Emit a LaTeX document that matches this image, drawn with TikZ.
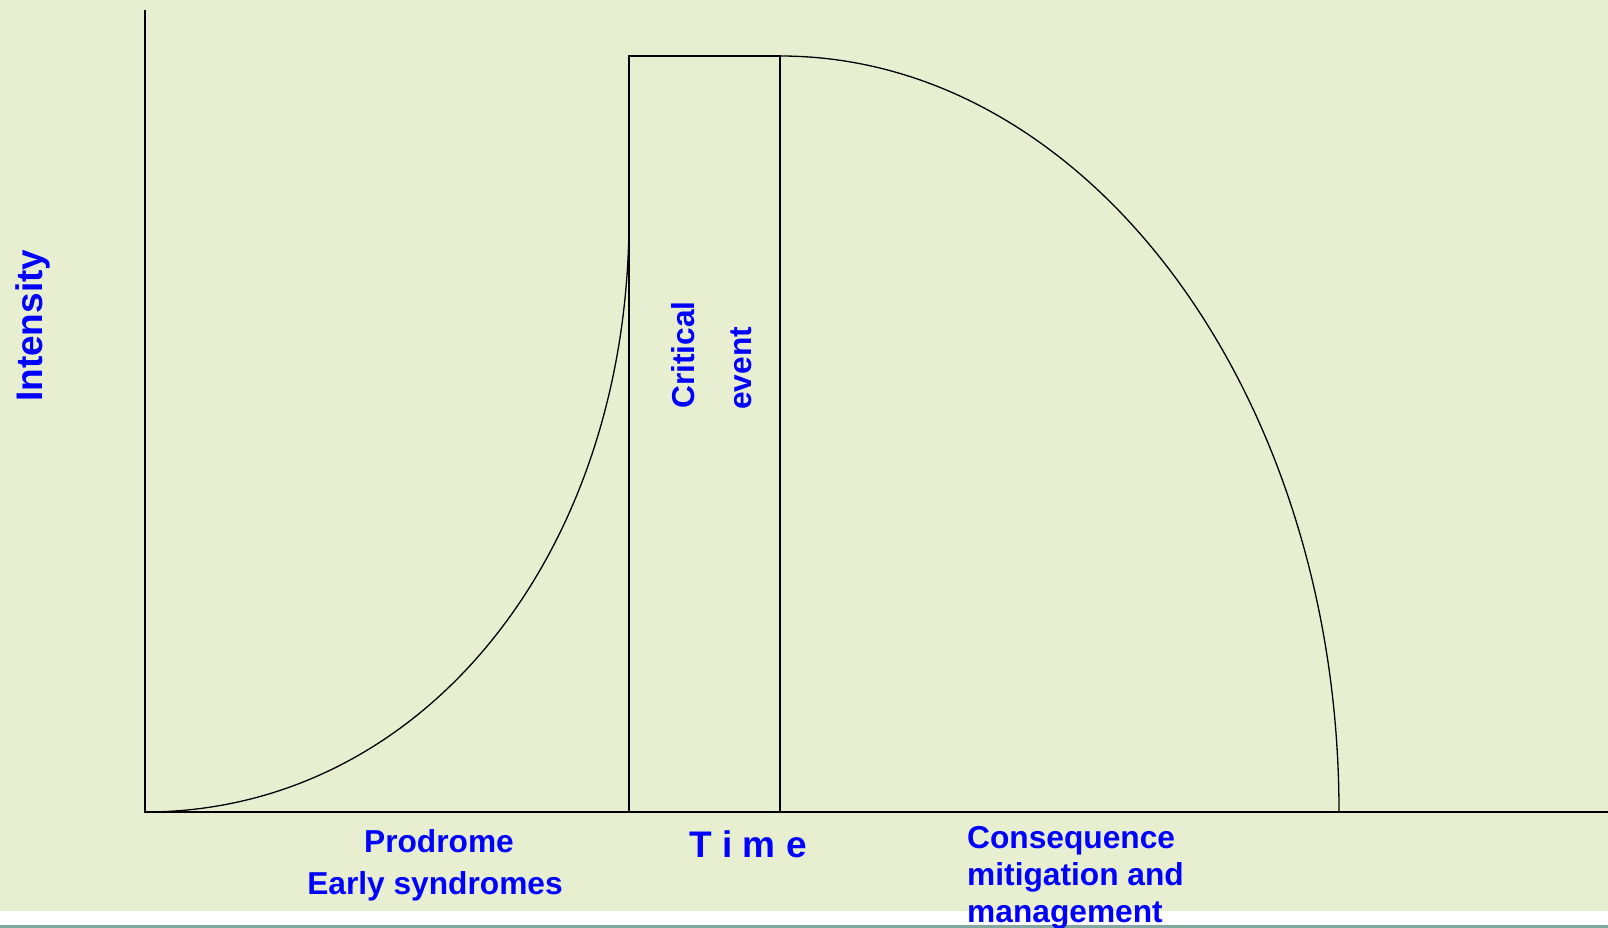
\documentclass[tikz,border=0pt]{standalone}
\usepackage{fontspec}
\setmainfont{Liberation Sans}
\definecolor{bgc}{HTML}{E8EFD0}
\definecolor{strip}{HTML}{7FA8A0}
\definecolor{lbl}{HTML}{0000FF}
\tikzset{
  axisline/.style={line width=1.7pt, black},
  thinline/.style={line width=1.3pt, black},
  lab/.style={inner sep=0pt, text=lbl, font=\bfseries\fontsize{31.7}{37.5}\selectfont},
  biglab/.style={inner sep=0pt, text=lbl, font=\bfseries\fontsize{37}{44}\selectfont},
}
\begin{document}
\begin{tikzpicture}[x=1pt,y=-1pt]
\useasboundingbox (0,0) rectangle (1608,928);
\fill[bgc] (0,0) rectangle (1608,911);
\fill[white] (0,911) rectangle (1608,925);
\fill[strip] (0,925) rectangle (1608,928);
% coordinates
\coordinate (ytop) at (145,10);
\coordinate (O) at (145,812);
\coordinate (xend) at (1608,812);
\coordinate (rbl) at (629,812);
\coordinate (rtl) at (629,56);
\coordinate (rtr) at (780,56);
\coordinate (rbr) at (780,812);
\coordinate (lcend) at (629,218);
\coordinate (rcend) at (1339,812);
% axes
\draw[axisline] (ytop) -- (O) -- (xend);
% critical event box
\draw[thinline] (rbl) -- (rtl) -- (rtr) -- (rbr);
% prodrome curve
\draw[thinline] (O) .. controls (420.9,812) and (629,556.6) .. (lcend);
% consequence curve
\draw[thinline] (rtr) .. controls (1088.7,56) and (1339,394.5) .. (rcend);
% labels
\node[biglab, rotate=90, anchor=base west] (intensity) at (42,402) {Intensity};
\node[lab, rotate=90, anchor=base west] (critical) at (694,409) {Critical};
\node[lab, rotate=90, anchor=base west] (event) at (751,410) {event};
\node[lab, anchor=base] (prodrome) at (439,852) {Prodrome};
\node[lab, anchor=base] (early) at (435,894) {Early syndromes};
\node[biglab, anchor=base] (time) at (748,857) {T i m e};
\node[lab, anchor=base west] (cons1) at (967,848) {Consequence};
\node[lab, anchor=base west] (cons2) at (967,885) {mitigation and};
\node[lab, anchor=base west] (cons3) at (967,922) {management};
\end{tikzpicture}
\end{document}
